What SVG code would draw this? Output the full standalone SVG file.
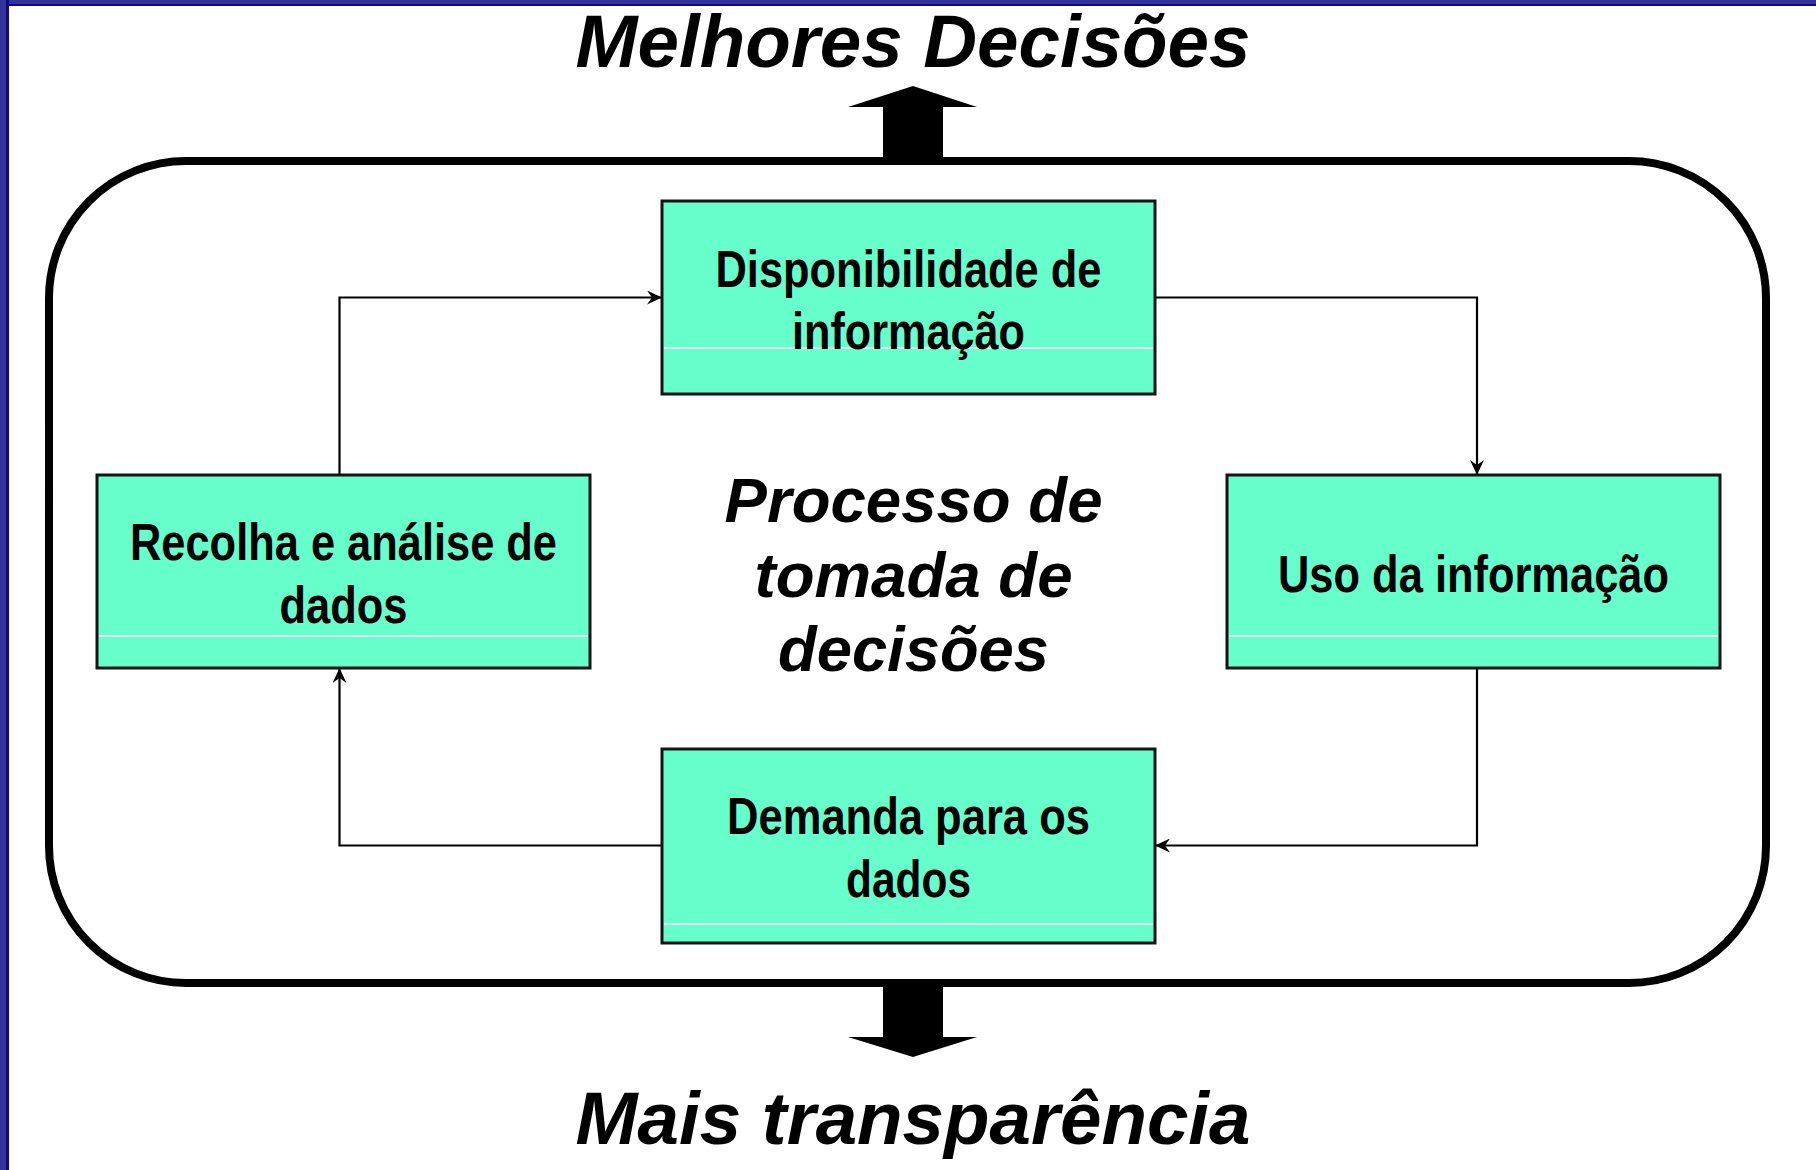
<svg xmlns="http://www.w3.org/2000/svg" width="1816" height="1170" viewBox="0 0 1816 1170">
<style>
.box{fill:#66FFCC;stroke:#141414;stroke-width:3}
.sep{stroke:#FFFFFF;stroke-width:1.5}
.bt{font-family:"Liberation Sans Narrow","Liberation Sans",Arial,sans-serif;font-weight:bold;font-size:52px;fill:#000;text-anchor:middle}
.title{font-family:"Liberation Sans",Arial,sans-serif;font-weight:bold;font-style:italic;font-size:74px;fill:#000;text-anchor:middle}
.center{font-family:"Liberation Sans",Arial,sans-serif;font-weight:bold;font-style:italic;font-size:63px;fill:#000;text-anchor:middle}
.conn{fill:none;stroke:#000;stroke-width:2.2}
</style>
<defs>
<marker id="ah" markerUnits="userSpaceOnUse" markerWidth="16" markerHeight="14" refX="15" refY="7" orient="auto">
<path d="M0,0 L15,7 L0,14 L5,7 Z" fill="#000"/>
</marker>
</defs>
<rect x="0" y="0" width="1816" height="1170" fill="#FFFFFF"/>
<g id="frame">
<rect x="0" y="0" width="1816" height="6" fill="#0A0A8A"/>
<rect x="0" y="0" width="1816" height="4" fill="#333399"/>
<rect x="0" y="0" width="9" height="1170" fill="#0A0A8A"/>
<rect x="0" y="0" width="6" height="1170" fill="#333399"/>
</g>
<g id="title-top">
<text class="title" x="913" y="67" textLength="675" lengthAdjust="spacingAndGlyphs">Melhores Decisões</text>
</g>
<g id="arrow-up">
<polygon points="883,161 883,107 848,107 913,86 977,107 943,107 943,161" fill="#000"/>
</g>
<g id="process">
<rect x="49" y="161" width="1717" height="822" rx="137" ry="137" fill="none" stroke="#000" stroke-width="8"/>
</g>
<g id="arrow-down">
<polygon points="883,983 883,1037 848,1037 913,1057 977,1037 943,1037 943,983" fill="#000"/>
</g>
<g id="title-bottom">
<text class="title" x="913" y="1144" textLength="675" lengthAdjust="spacingAndGlyphs">Mais transparência</text>
</g>
<g id="center-label">
<text class="center" x="913.5" y="522" textLength="378" lengthAdjust="spacingAndGlyphs">Processo de</text>
<text class="center" x="913.5" y="597" textLength="318" lengthAdjust="spacingAndGlyphs">tomada de</text>
<text class="center" x="913.5" y="671" textLength="271" lengthAdjust="spacingAndGlyphs">decisões</text>
</g>
<g id="connectors">
<path class="conn" d="M339.5,475 V297.5 H662" marker-end="url(#ah)"/>
<path class="conn" d="M1155,297.5 H1477 V475" marker-end="url(#ah)"/>
<path class="conn" d="M1477,668 V845.5 H1155" marker-end="url(#ah)"/>
<path class="conn" d="M662,845.5 H339.5 V668" marker-end="url(#ah)"/>
</g>
<g id="node-disponibilidade">
<rect class="box" x="662" y="201" width="493" height="193"/>
<line class="sep" x1="664" y1="348" x2="1153" y2="348"/>
<text class="bt" x="908.5" y="287" textLength="386" lengthAdjust="spacingAndGlyphs">Disponibilidade de</text>
<text class="bt" x="908.5" y="349" textLength="233" lengthAdjust="spacingAndGlyphs">informação</text>
</g>
<g id="node-recolha">
<rect class="box" x="97" y="475" width="493" height="193"/>
<line class="sep" x1="99" y1="636" x2="588" y2="636"/>
<text class="bt" x="343.5" y="560" textLength="427" lengthAdjust="spacingAndGlyphs">Recolha e análise de</text>
<text class="bt" x="343.5" y="623" textLength="128" lengthAdjust="spacingAndGlyphs">dados</text>
</g>
<g id="node-uso">
<rect class="box" x="1227" y="475" width="493" height="193"/>
<line class="sep" x1="1229" y1="636" x2="1718" y2="636"/>
<text class="bt" x="1473.5" y="592" textLength="391" lengthAdjust="spacingAndGlyphs">Uso da informação</text>
</g>
<g id="node-demanda">
<rect class="box" x="662" y="749" width="493" height="194"/>
<line class="sep" x1="664" y1="924" x2="1153" y2="924"/>
<text class="bt" x="908.5" y="834" textLength="363" lengthAdjust="spacingAndGlyphs">Demanda para os</text>
<text class="bt" x="908.5" y="897" textLength="125" lengthAdjust="spacingAndGlyphs">dados</text>
</g>
</svg>
